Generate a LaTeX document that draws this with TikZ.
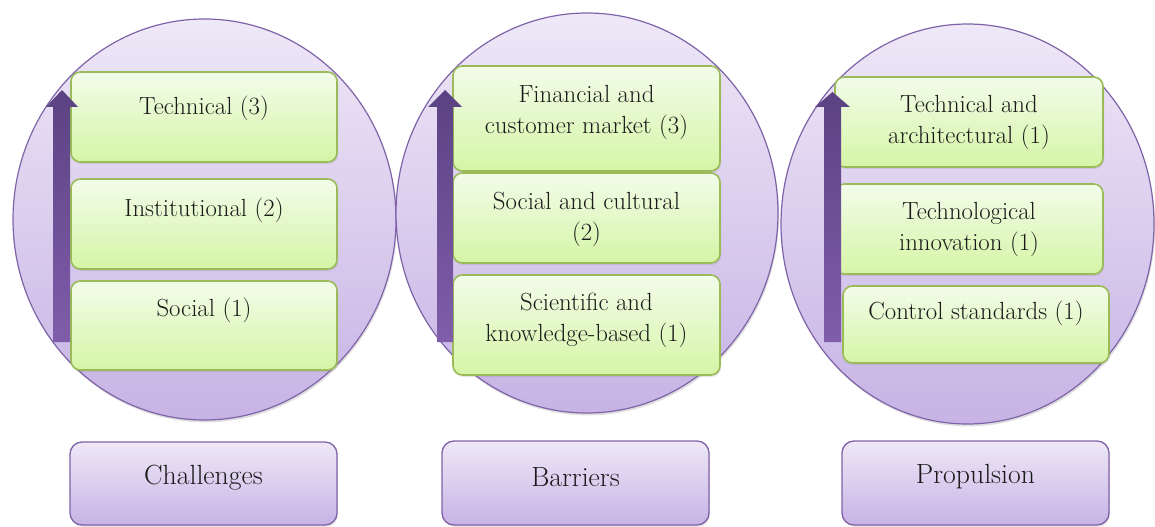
\documentclass[tikz,border=0pt]{standalone}
\usetikzlibrary{shadows,calc,shapes.geometric}
\definecolor{cfillT}{HTML}{EEE8F7}
\definecolor{cfillB}{HTML}{C7B3E5}
\definecolor{cline}{HTML}{7F63A8}
\definecolor{gfillT}{HTML}{F2FCEA}
\definecolor{gfillB}{HTML}{D6F5A6}
\definecolor{gline}{HTML}{9BBB59}
\definecolor{arrT}{HTML}{5B4282}
\definecolor{arrB}{HTML}{7F5DAA}
\definecolor{txtc}{HTML}{1A1A1A}
\tikzset{
  bigcirc/.style={ellipse, draw=cline, line width=0.9pt, top color=cfillT, bottom color=cfillB, inner sep=0pt,
    drop shadow={opacity=0.25, shadow xshift=0.8pt, shadow yshift=-1.8pt}},
  gbox/.style={draw=gline, line width=1.2pt, rounded corners=7pt, top color=gfillT, bottom color=gfillB, inner sep=0pt,
    drop shadow={opacity=0.2, shadow xshift=0.8pt, shadow yshift=-1.5pt}},
  pbox/.style={draw=cline, line width=1pt, rounded corners=9pt, top color=cfillT, bottom color=cfillB, inner sep=0pt,
    drop shadow={opacity=0.2, shadow xshift=0.8pt, shadow yshift=-1.5pt}},
  txt/.style={text=txtc, align=center, font=\rmfamily\fontsize{18.6pt}{23.25pt}\selectfont, inner sep=0pt},
  lbl/.style={text=txtc, align=center, font=\rmfamily\fontsize{20.8pt}{24pt}\selectfont, inner sep=0pt},
  blockarrow/.style={top color=arrT, bottom color=arrB, draw=none}
}
\begin{document}
\begin{tikzpicture}[x=0.75pt,y=-0.75pt]
\useasboundingbox (0,0) rectangle (1155,527);
% circles
\node[bigcirc, minimum width=287.25pt, minimum height=300.75pt] (c1) at (204.5,219.5) {};
\node[bigcirc, minimum width=286.5pt, minimum height=300pt] (c2) at (587,213) {};
\node[bigcirc, minimum width=279.75pt, minimum height=300pt] (c3) at (967.5,224) {};
% circle 1 boxes
\node[gbox, minimum width=199.5pt, minimum height=67.5pt] (a1) at (204,117) {};
\node[gbox, minimum width=199.5pt, minimum height=67.5pt] (a2) at (204,224) {};
\node[gbox, minimum width=199.5pt, minimum height=66.75pt] (a3) at (204,325.5) {};
\node[txt] (ta1) at (204,108) {Technical (3)};
\node[txt] (ta2) at (204,210) {Institutional (2)};
\node[txt] (ta3) at (204,310) {Social (1)};
% circle 2 boxes
\node[gbox, minimum width=200.25pt, minimum height=78.75pt] (b1) at (586.5,118.5) {};
\node[gbox, minimum width=200.25pt, minimum height=67.5pt] (b2) at (586.5,218) {};
\node[gbox, minimum width=200.25pt, minimum height=75pt] (b3) at (586.5,325) {};
\node[txt] (tb1) at (586.5,112.5) {Financial and\\customer market (3)};
\node[txt] (tb2) at (586.5,219) {Social and cultural\\(2)};
\node[txt] (tb3) at (586.5,320) {Scientific and\\knowledge-based (1)};
% circle 3 boxes
\node[gbox, minimum width=201pt, minimum height=67.5pt] (d1) at (969,122) {};
\node[gbox, minimum width=201pt, minimum height=67.5pt] (d2) at (969,229) {};
\node[gbox, minimum width=199.5pt, minimum height=57.75pt] (d3) at (976,324.5) {};
\node[txt] (td1) at (969,122.5) {Technical and\\architectural (1)};
\node[txt] (td2) at (969,229) {Technological\\innovation (1)};
\node[txt] (td3) at (976,313) {Control standards (1)};
% arrows
\shade[blockarrow] (53,342) -- (53,107) -- (46,107) -- (62,90) -- (78,107) -- (70,107) -- (70,342) -- cycle;
\shade[blockarrow] (437,342) -- (437,107) -- (428,107) -- (445,90) -- (462,107) -- (453,107) -- (453,342) -- cycle;
\shade[blockarrow] (824,342) -- (824,107) -- (815,107) -- (832.5,92) -- (850,107) -- (841,107) -- (841,342) -- cycle;
% bottom labels
\node[pbox, minimum width=200.25pt, minimum height=62.25pt] (p1) at (203.5,483.5) {};
\node[pbox, minimum width=200.25pt, minimum height=63pt] (p2) at (575.5,483) {};
\node[pbox, minimum width=200.25pt, minimum height=63pt] (p3) at (975.5,483) {};
\node[lbl] (tp1) at (203.5,478) {Challenges};
\node[lbl] (tp2) at (575.5,477) {Barriers};
\node[lbl] (tp3) at (975.5,477) {Propulsion};
\end{tikzpicture}
\end{document}
